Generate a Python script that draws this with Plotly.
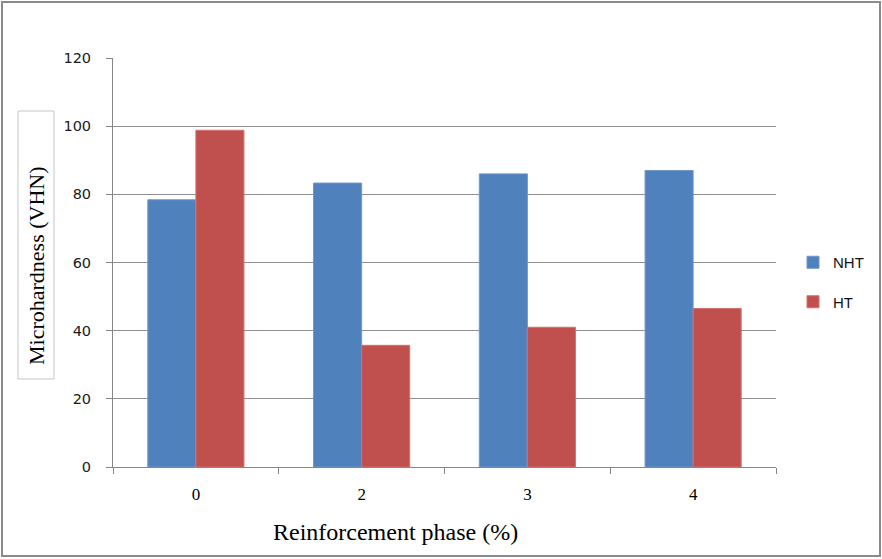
import plotly.graph_objects as go

categories = ["0", "2", "3", "4"]
nht_values = [78.4, 83.3, 86.0, 87.0]
ht_values = [98.8, 35.7, 41.0, 46.5]
series_names = ["NHT", "HT"]
y_ticks = [0, 20, 40, 60, 80, 100, 120]

W, H = 882, 559
L, R, T, B = 113, 776, 58, 467  # plot area in pixels

def px(x):
    return (x - L) / (R - L)

def py(y):
    return (B - y) / (B - T)

fig = go.Figure()
fig.add_trace(go.Bar(x=categories, y=nht_values, name=series_names[0],
                     marker=dict(color="#4F81BD", line=dict(color="#6d97cb", width=1)),
                     legendgroup="a"))
fig.add_trace(go.Bar(x=categories, y=ht_values, name=series_names[1],
                     marker=dict(color="#C0504D", line=dict(color="#d2706d", width=1)),
                     legendgroup="b"))

fig.update_layout(
    width=W, height=H,
    margin=dict(l=L, r=W - R, t=T, b=H - B),
    paper_bgcolor="white", plot_bgcolor="white",
    barmode="group", bargap=0.42, bargroupgap=0,
    showlegend=True,
    legend=dict(x=px(793), y=py(246), xanchor="left", yanchor="top",
                font=dict(family="Liberation Sans, Arial", size=15, color="#111"),
                tracegroupgap=17, traceorder="grouped", itemwidth=30,
                bgcolor="rgba(0,0,0,0)"),
    xaxis=dict(type="category", showline=True, linecolor="#868686", linewidth=1,
               ticks="outside", ticklen=6, tickcolor="#868686", tickson="boundaries",
               showgrid=False, ticklabelstandoff=12,
               tickfont=dict(family="Liberation Serif, Times New Roman", size=17, color="#000")),
    yaxis=dict(range=[0, 120], tickvals=y_ticks, showline=True, linecolor="#868686", linewidth=1,
               ticks="outside", ticklen=6, tickcolor="#868686",
               showgrid=True, gridcolor="#8f8f8f", gridwidth=1, zeroline=False,
               ticklabelstandoff=12,
               tickfont=dict(family="DejaVu Sans, Verdana", size=14.5, color="#1a1a1a")),
    shapes=[
        dict(type="rect", xref="paper", yref="paper",
             x0=px(2), x1=px(880), y0=py(556), y1=py(2),
             line=dict(color="#8a8a8a", width=2), layer="below"),
        dict(type="rect", xref="paper", yref="paper",
             x0=px(18), x1=px(54), y0=py(379), y1=py(111),
             line=dict(color="#c6c6c6", width=1)),
    ],
    annotations=[
        dict(text="Microhardness (VHN)", xref="paper", yref="paper",
             x=px(36), y=py(266), xanchor="center", yanchor="middle",
             textangle=-90, showarrow=False,
             font=dict(family="Liberation Serif, Times New Roman", size=22, color="#000")),
        dict(text="Reinforcement phase (%)", xref="paper", yref="paper",
             x=px(395), y=py(532), xanchor="center", yanchor="middle",
             showarrow=False,
             font=dict(family="Liberation Serif, Times New Roman", size=24, color="#000")),
    ],
)

fig.write_html("out.html", config={"displayModeBar": False},
               post_script="document.body.style.margin='0';")
